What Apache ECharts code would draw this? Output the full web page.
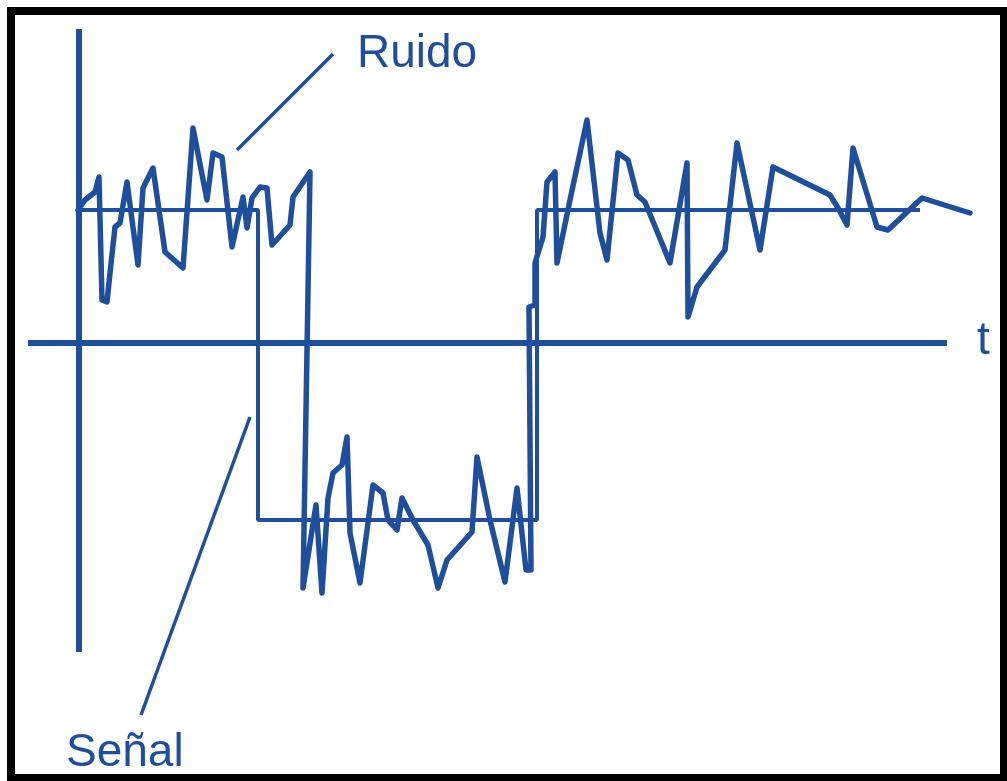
<!DOCTYPE html>
<html>
<head>
<meta charset="utf-8">
<script src="https://cdn.jsdelivr.net/npm/echarts@6/dist/echarts.min.js"></script>
<style>
html,body{margin:0;padding:0;background:#fff;}
#c{width:1007px;height:781px;}
</style>
</head>
<body>
<div id="c"></div>
<script>
// Time axis (t) and amplitude values
const noiseT = [0.00,0.07,0.17,0.21,0.24,0.29,0.32,0.37,0.42,0.49,0.60,0.65,0.75,0.87,1.05,1.15,1.29,1.35,1.44,1.54,1.65,1.69,1.74,1.82,1.89,1.94,2.12,2.15,2.32,2.25,2.38,2.44,2.50,2.55,2.64,2.69,2.72,2.82,2.95,3.05,3.10,3.19,3.24,3.35,3.50,3.60,3.69,3.94,3.99,4.12,4.27,4.39,4.48,4.53,4.51,4.57,4.57,4.65,4.69,4.77,4.79,4.92,5.09,5.22,5.29,5.40,5.50,5.59,5.67,5.92,6.09,6.10,6.19,6.47,6.59,6.82,6.95,7.52,7.60,7.69,7.75,7.99,8.10,8.44,8.92];
const noiseY = [1.33,1.43,1.51,1.66,0.43,0.41,0.70,1.16,1.20,1.61,0.78,1.55,1.75,0.91,0.75,2.15,1.43,1.90,1.86,0.96,1.46,1.15,1.45,1.56,1.55,0.98,1.18,1.46,1.71,-2.45,-1.62,-2.50,-1.55,-1.30,-1.22,-0.94,-1.90,-2.40,-1.42,-1.50,-1.77,-1.87,-1.55,-1.77,-2.02,-2.45,-2.17,-1.89,-1.14,-1.77,-2.39,-1.45,-2.27,-2.27,0.36,0.38,0.80,1.06,1.61,1.71,0.80,1.43,2.23,1.10,0.83,1.90,1.83,1.48,1.41,0.80,1.80,0.26,0.56,0.93,2.00,0.93,1.76,1.48,1.35,1.18,1.95,1.16,1.13,1.45,1.30];
const signalT = [0.00,1.80,1.80,4.59,4.59,8.42];
const signalY = [1.33,1.33,-1.77,-1.77,1.33,1.33];
const tAxisT = [-0.50,8.69];
const tAxisY = [0,0];
const ampAxisT = [0.01,0.01];
const ampAxisY = [3.14,-3.09];
const labels = {noise:'Ruido', signal:'Señal', time:'t'};

const zip = (a,b) => a.map((v,i)=>[v,b[i]]);
const BLUE = '#1f4f9c';
const FONT = '"Liberation Sans", Arial, sans-serif';

const chart = echarts.init(document.getElementById('c'), null, {renderer:'canvas'});
chart.setOption({
  animation:false,
  backgroundColor:'#ffffff',
  grid:{left:28, right:37, top:29, bottom:129},
  xAxis:{type:'value', min:-0.5, max:8.92, show:false},
  yAxis:{type:'value', min:-3.09, max:3.14, show:false},
  series:[
    {type:'line', data:zip(tAxisT,tAxisY), symbol:'none', lineStyle:{color:BLUE,width:6}, silent:true},
    {type:'line', data:zip(ampAxisT,ampAxisY), symbol:'none', lineStyle:{color:BLUE,width:6}, silent:true},
    {type:'line', data:zip(signalT,signalY), symbol:'none', lineStyle:{color:BLUE,width:4}, silent:true},
    {type:'line', data:zip(noiseT,noiseY), symbol:'none', lineStyle:{color:BLUE,width:5.5, join:'round', cap:'round'}, silent:true}
  ],
  graphic:[
    {type:'line', shape:{x1:333,y1:54,x2:237,y2:150}, style:{stroke:BLUE,lineWidth:3.5}},
    {type:'line', shape:{x1:250,y1:417,x2:141,y2:715}, style:{stroke:BLUE,lineWidth:3.5}},
    {type:'text', left:357, top:31, style:{text:labels.noise, font:'46px '+FONT, fill:BLUE}},
    {type:'text', left:66, top:730, style:{text:labels.signal, font:'46px '+FONT, fill:BLUE}},
    {type:'text', left:977, top:318, style:{text:labels.time, font:'46px '+FONT, fill:BLUE}},
    {type:'rect', shape:{x:11,y:11,width:993,height:767}, style:{stroke:'#000',fill:'none',lineWidth:8}, z:100}
  ]
});
</script>
</body>
</html>
